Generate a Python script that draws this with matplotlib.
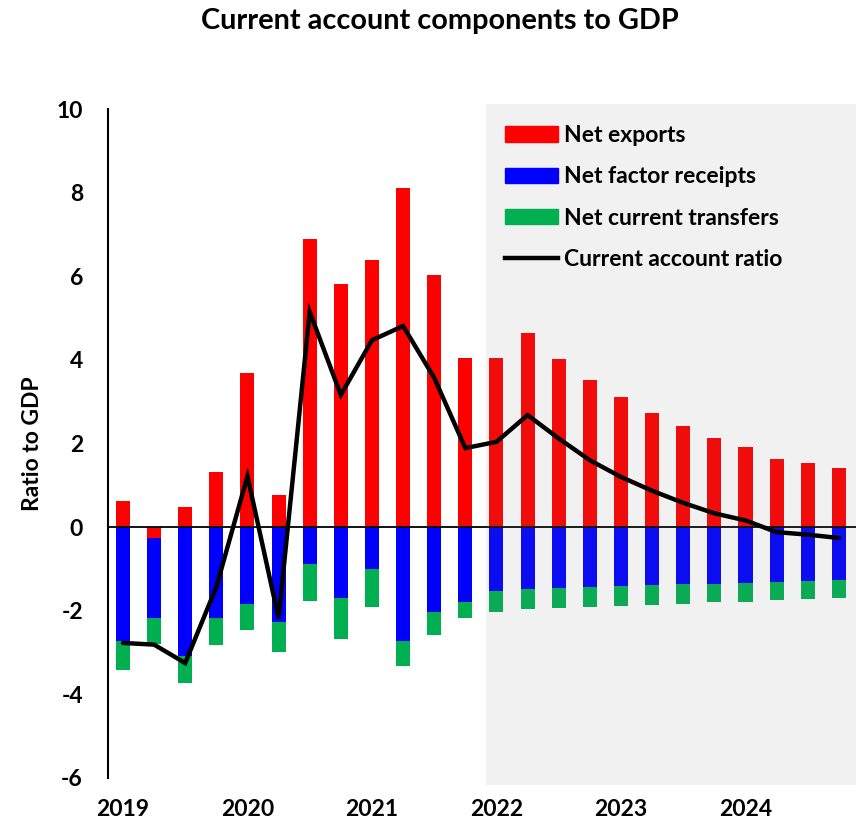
import matplotlib
matplotlib.use("Agg")
import matplotlib.pyplot as plt
import numpy as np
from matplotlib.patches import Rectangle, Patch
from matplotlib.lines import Line2D

plt.rcParams['font.family'] = ['Lato', 'DejaVu Sans']
plt.rcParams['font.weight'] = 'bold'

quarters = [f"{y}Q{q}" for y in range(2019, 2025) for q in range(1, 5)]
year_labels = ["2019", "2020", "2021", "2022", "2023", "2024"]

net_exports = [0.63, -0.26, 0.48, 1.32, 3.68, 0.77, 6.89, 5.81, 6.40, 8.10, 6.04, 4.04,
               4.05, 4.65, 4.03, 3.52, 3.12, 2.74, 2.41, 2.12, 1.91, 1.63, 1.54, 1.42]
net_factor = [-2.73, -1.91, -3.08, -2.17, -1.85, -2.28, -0.89, -1.69, -0.99, -2.72, -2.03, -1.80,
              -1.52, -1.48, -1.45, -1.44, -1.42, -1.39, -1.37, -1.36, -1.34, -1.31, -1.29, -1.27]
net_transfers = [-0.69, -0.62, -0.65, -0.64, -0.61, -0.70, -0.88, -0.98, -0.93, -0.60, -0.54, -0.37,
                 -0.50, -0.49, -0.48, -0.47, -0.46, -0.47, -0.46, -0.44, -0.44, -0.43, -0.42, -0.42]
ca_ratio = [-2.77, -2.81, -3.25, -1.43, 1.22, -2.18, 5.15, 3.16, 4.47, 4.81, 3.57, 1.89,
            2.04, 2.68, 2.12, 1.60, 1.20, 0.87, 0.58, 0.33, 0.16, -0.12, -0.18, -0.26]

x = np.arange(len(quarters))
ne = np.array(net_exports)
nf = np.array(net_factor)
nt = np.array(net_transfers)

fig = plt.figure(figsize=(8.56, 8.26), dpi=100)
ax = fig.add_axes([108/856, 1-778/826, (856-108)/856, (778-109)/826])

w = 0.45
red, blue, green = "#FF0000", "#0000FF", "#00B050"
neg_base = np.minimum(ne, 0)
ax.bar(x, ne, width=w, color=red, zorder=2)
ax.bar(x, nf, bottom=neg_base, width=w, color=blue, zorder=2)
ax.bar(x, nt, bottom=neg_base + nf, width=w, color=green, zorder=2)

ax.axhline(0, color="black", lw=1.3, zorder=3)

ax.set_xlim(-0.48, 23.55)
ax.set_ylim(-6, 10)

# forecast shading (overlay)
shade = Rectangle((11.67, -6.17), 23.55 - 11.67, 16.3, facecolor="#7A7A7A", alpha=0.1,
                  edgecolor="none", zorder=4, clip_on=False, transform=ax.transData)
ax.add_patch(shade)

ax.plot(x, ca_ratio, color="black", lw=3.2, zorder=5, solid_capstyle="round", solid_joinstyle="miter")

for s in ["top", "right", "bottom"]:
    ax.spines[s].set_visible(False)
ax.spines["left"].set_linewidth(1.5)

ax.set_yticks(np.arange(-6, 11, 2))
ax.set_yticklabels([str(v) for v in range(-6, 11, 2)], fontsize=16.5, fontweight="bold")
ax.tick_params(axis="y", length=0, pad=18)
ax.set_xticks(x[::4])
ax.set_xticklabels(year_labels, fontsize=16.5, fontweight="bold")
ax.tick_params(axis="x", length=0, pad=15)

ax.set_ylabel("Ratio to GDP", fontsize=16.5, fontweight="bold", labelpad=10)

fig.text(440/856, 1-21/826, "Current account components to GDP", ha="center", va="center",
         fontsize=20.8, fontweight="bold")

handles = [Patch(color=red, label="Net exports"),
           Patch(color=blue, label="Net factor receipts"),
           Patch(color=green, label="Net current transfers"),
           Line2D([0], [0], color="black", lw=3.2, label="Current account ratio")]
leg = ax.legend(handles=handles, loc="upper left", bbox_to_anchor=(505/856, 1-125/826),
                bbox_transform=fig.transFigure, frameon=False, fontsize=16.5,
                handlelength=2.3, handleheight=0.65, labelspacing=0.89, handletextpad=0.28,
                borderaxespad=0, borderpad=0)
for t in leg.get_texts():
    t.set_fontweight("bold")

fig.savefig("out.png", dpi=100)
